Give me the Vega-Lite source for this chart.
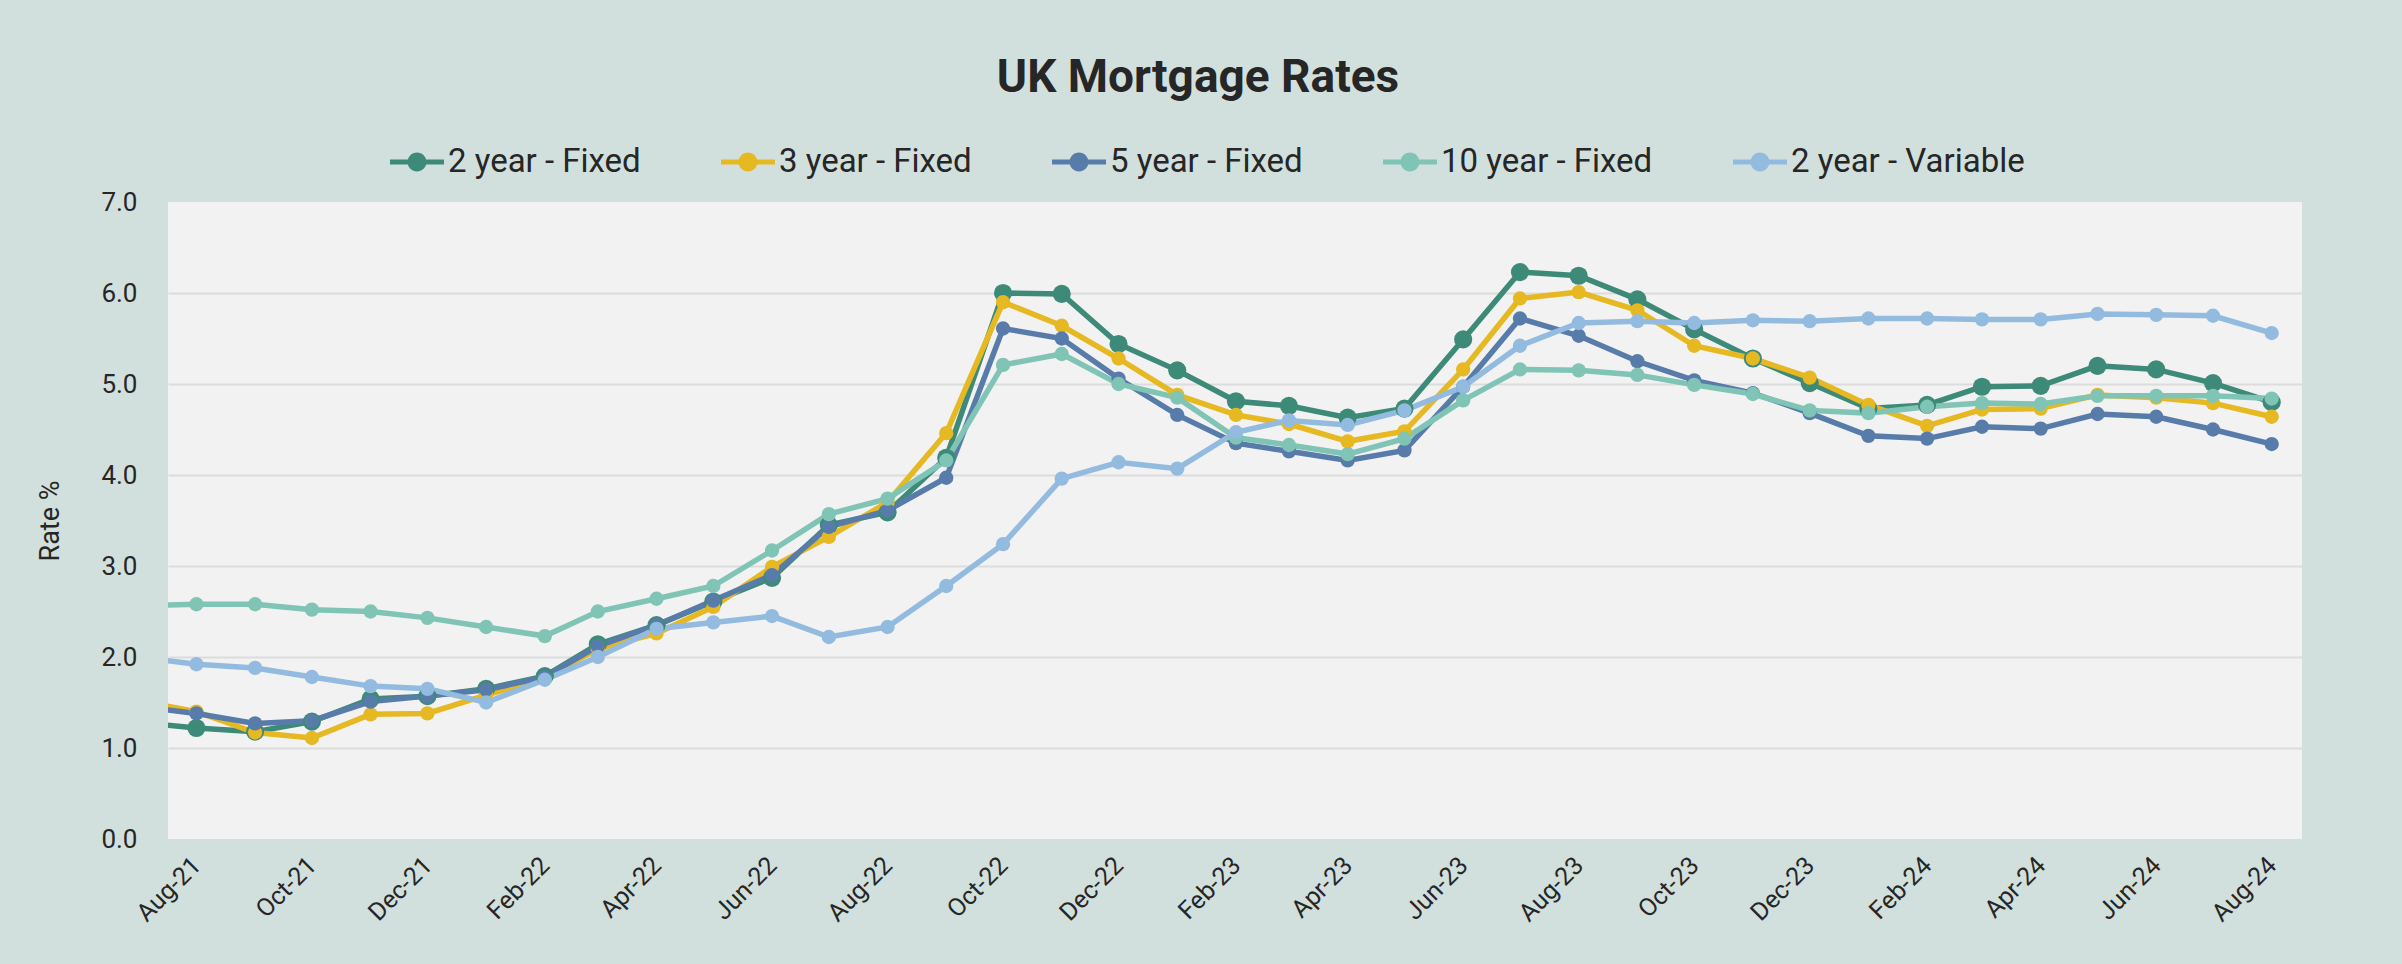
{
  "$schema": "https://vega.github.io/schema/vega-lite/v6.json",
  "autosize": {"type": "none"},
  "width": 2134,
  "height": 637,
  "padding": {"left": 168, "top": 202, "right": 100, "bottom": 125},
  "background": "#d2e0dd",
  "title": {"text": "UK Mortgage Rates", "font": "Roboto", "fontSize": 46, "fontWeight": "bold", "color": "#262626", "anchor": "middle", "frame": "group", "dx": -37, "offset": 33},
  "config": {"font": "Roboto", "view": {"fill": "#f2f2f2", "stroke": null}},
  "data": {"values": [
    {"date":"2021-07-01","series":"2 year - Fixed","rate":1.28},{"date":"2021-08-01","series":"2 year - Fixed","rate":1.22},{"date":"2021-09-01","series":"2 year - Fixed","rate":1.18},{"date":"2021-10-01","series":"2 year - Fixed","rate":1.29},{"date":"2021-11-01","series":"2 year - Fixed","rate":1.54},{"date":"2021-12-01","series":"2 year - Fixed","rate":1.57},
    {"date":"2022-01-01","series":"2 year - Fixed","rate":1.65},{"date":"2022-02-01","series":"2 year - Fixed","rate":1.79},{"date":"2022-03-01","series":"2 year - Fixed","rate":2.14},{"date":"2022-04-01","series":"2 year - Fixed","rate":2.35},{"date":"2022-05-01","series":"2 year - Fixed","rate":2.61},{"date":"2022-06-01","series":"2 year - Fixed","rate":2.87},{"date":"2022-07-01","series":"2 year - Fixed","rate":3.45},{"date":"2022-08-01","series":"2 year - Fixed","rate":3.59},{"date":"2022-09-01","series":"2 year - Fixed","rate":4.19},{"date":"2022-10-01","series":"2 year - Fixed","rate":6.00},{"date":"2022-11-01","series":"2 year - Fixed","rate":5.99},{"date":"2022-12-01","series":"2 year - Fixed","rate":5.44},
    {"date":"2023-01-01","series":"2 year - Fixed","rate":5.15},{"date":"2023-02-01","series":"2 year - Fixed","rate":4.81},{"date":"2023-03-01","series":"2 year - Fixed","rate":4.76},{"date":"2023-04-01","series":"2 year - Fixed","rate":4.63},{"date":"2023-05-01","series":"2 year - Fixed","rate":4.73},{"date":"2023-06-01","series":"2 year - Fixed","rate":5.49},{"date":"2023-07-01","series":"2 year - Fixed","rate":6.23},{"date":"2023-08-01","series":"2 year - Fixed","rate":6.19},{"date":"2023-09-01","series":"2 year - Fixed","rate":5.93},{"date":"2023-10-01","series":"2 year - Fixed","rate":5.60},{"date":"2023-11-01","series":"2 year - Fixed","rate":5.28},{"date":"2023-12-01","series":"2 year - Fixed","rate":5.01},
    {"date":"2024-01-01","series":"2 year - Fixed","rate":4.73},{"date":"2024-02-01","series":"2 year - Fixed","rate":4.77},{"date":"2024-03-01","series":"2 year - Fixed","rate":4.97},{"date":"2024-04-01","series":"2 year - Fixed","rate":4.98},{"date":"2024-05-01","series":"2 year - Fixed","rate":5.20},{"date":"2024-06-01","series":"2 year - Fixed","rate":5.16},{"date":"2024-07-01","series":"2 year - Fixed","rate":5.01},{"date":"2024-08-01","series":"2 year - Fixed","rate":4.80},

    {"date":"2021-07-01","series":"3 year - Fixed","rate":1.52},{"date":"2021-08-01","series":"3 year - Fixed","rate":1.40},{"date":"2021-09-01","series":"3 year - Fixed","rate":1.17},{"date":"2021-10-01","series":"3 year - Fixed","rate":1.11},{"date":"2021-11-01","series":"3 year - Fixed","rate":1.37},{"date":"2021-12-01","series":"3 year - Fixed","rate":1.38},
    {"date":"2022-01-01","series":"3 year - Fixed","rate":1.58},{"date":"2022-02-01","series":"3 year - Fixed","rate":1.77},{"date":"2022-03-01","series":"3 year - Fixed","rate":2.09},{"date":"2022-04-01","series":"3 year - Fixed","rate":2.26},{"date":"2022-05-01","series":"3 year - Fixed","rate":2.55},{"date":"2022-06-01","series":"3 year - Fixed","rate":2.99},{"date":"2022-07-01","series":"3 year - Fixed","rate":3.32},{"date":"2022-08-01","series":"3 year - Fixed","rate":3.70},{"date":"2022-09-01","series":"3 year - Fixed","rate":4.46},{"date":"2022-10-01","series":"3 year - Fixed","rate":5.90},{"date":"2022-11-01","series":"3 year - Fixed","rate":5.64},{"date":"2022-12-01","series":"3 year - Fixed","rate":5.28},
    {"date":"2023-01-01","series":"3 year - Fixed","rate":4.88},{"date":"2023-02-01","series":"3 year - Fixed","rate":4.66},{"date":"2023-03-01","series":"3 year - Fixed","rate":4.56},{"date":"2023-04-01","series":"3 year - Fixed","rate":4.37},{"date":"2023-05-01","series":"3 year - Fixed","rate":4.48},{"date":"2023-06-01","series":"3 year - Fixed","rate":5.16},{"date":"2023-07-01","series":"3 year - Fixed","rate":5.94},{"date":"2023-08-01","series":"3 year - Fixed","rate":6.01},{"date":"2023-09-01","series":"3 year - Fixed","rate":5.81},{"date":"2023-10-01","series":"3 year - Fixed","rate":5.42},{"date":"2023-11-01","series":"3 year - Fixed","rate":5.28},{"date":"2023-12-01","series":"3 year - Fixed","rate":5.07},
    {"date":"2024-01-01","series":"3 year - Fixed","rate":4.77},{"date":"2024-02-01","series":"3 year - Fixed","rate":4.54},{"date":"2024-03-01","series":"3 year - Fixed","rate":4.72},{"date":"2024-04-01","series":"3 year - Fixed","rate":4.73},{"date":"2024-05-01","series":"3 year - Fixed","rate":4.88},{"date":"2024-06-01","series":"3 year - Fixed","rate":4.85},{"date":"2024-07-01","series":"3 year - Fixed","rate":4.79},{"date":"2024-08-01","series":"3 year - Fixed","rate":4.64},

    {"date":"2021-07-01","series":"5 year - Fixed","rate":1.46},{"date":"2021-08-01","series":"5 year - Fixed","rate":1.38},{"date":"2021-09-01","series":"5 year - Fixed","rate":1.27},{"date":"2021-10-01","series":"5 year - Fixed","rate":1.30},{"date":"2021-11-01","series":"5 year - Fixed","rate":1.51},{"date":"2021-12-01","series":"5 year - Fixed","rate":1.57},
    {"date":"2022-01-01","series":"5 year - Fixed","rate":1.64},{"date":"2022-02-01","series":"5 year - Fixed","rate":1.78},{"date":"2022-03-01","series":"5 year - Fixed","rate":2.12},{"date":"2022-04-01","series":"5 year - Fixed","rate":2.35},{"date":"2022-05-01","series":"5 year - Fixed","rate":2.62},{"date":"2022-06-01","series":"5 year - Fixed","rate":2.90},{"date":"2022-07-01","series":"5 year - Fixed","rate":3.43},{"date":"2022-08-01","series":"5 year - Fixed","rate":3.61},{"date":"2022-09-01","series":"5 year - Fixed","rate":3.97},{"date":"2022-10-01","series":"5 year - Fixed","rate":5.61},{"date":"2022-11-01","series":"5 year - Fixed","rate":5.50},{"date":"2022-12-01","series":"5 year - Fixed","rate":5.06},
    {"date":"2023-01-01","series":"5 year - Fixed","rate":4.66},{"date":"2023-02-01","series":"5 year - Fixed","rate":4.35},{"date":"2023-03-01","series":"5 year - Fixed","rate":4.26},{"date":"2023-04-01","series":"5 year - Fixed","rate":4.16},{"date":"2023-05-01","series":"5 year - Fixed","rate":4.27},{"date":"2023-06-01","series":"5 year - Fixed","rate":4.97},{"date":"2023-07-01","series":"5 year - Fixed","rate":5.72},{"date":"2023-08-01","series":"5 year - Fixed","rate":5.53},{"date":"2023-09-01","series":"5 year - Fixed","rate":5.25},{"date":"2023-10-01","series":"5 year - Fixed","rate":5.04},{"date":"2023-11-01","series":"5 year - Fixed","rate":4.90},{"date":"2023-12-01","series":"5 year - Fixed","rate":4.68},
    {"date":"2024-01-01","series":"5 year - Fixed","rate":4.43},{"date":"2024-02-01","series":"5 year - Fixed","rate":4.40},{"date":"2024-03-01","series":"5 year - Fixed","rate":4.53},{"date":"2024-04-01","series":"5 year - Fixed","rate":4.51},{"date":"2024-05-01","series":"5 year - Fixed","rate":4.67},{"date":"2024-06-01","series":"5 year - Fixed","rate":4.64},{"date":"2024-07-01","series":"5 year - Fixed","rate":4.50},{"date":"2024-08-01","series":"5 year - Fixed","rate":4.34},

    {"date":"2021-07-01","series":"10 year - Fixed","rate":2.56},{"date":"2021-08-01","series":"10 year - Fixed","rate":2.58},{"date":"2021-09-01","series":"10 year - Fixed","rate":2.58},{"date":"2021-10-01","series":"10 year - Fixed","rate":2.52},{"date":"2021-11-01","series":"10 year - Fixed","rate":2.50},{"date":"2021-12-01","series":"10 year - Fixed","rate":2.43},
    {"date":"2022-01-01","series":"10 year - Fixed","rate":2.33},{"date":"2022-02-01","series":"10 year - Fixed","rate":2.23},{"date":"2022-03-01","series":"10 year - Fixed","rate":2.50},{"date":"2022-04-01","series":"10 year - Fixed","rate":2.64},{"date":"2022-05-01","series":"10 year - Fixed","rate":2.78},{"date":"2022-06-01","series":"10 year - Fixed","rate":3.17},{"date":"2022-07-01","series":"10 year - Fixed","rate":3.57},{"date":"2022-08-01","series":"10 year - Fixed","rate":3.74},{"date":"2022-09-01","series":"10 year - Fixed","rate":4.16},{"date":"2022-10-01","series":"10 year - Fixed","rate":5.21},{"date":"2022-11-01","series":"10 year - Fixed","rate":5.33},{"date":"2022-12-01","series":"10 year - Fixed","rate":5.00},
    {"date":"2023-01-01","series":"10 year - Fixed","rate":4.85},{"date":"2023-02-01","series":"10 year - Fixed","rate":4.41},{"date":"2023-03-01","series":"10 year - Fixed","rate":4.33},{"date":"2023-04-01","series":"10 year - Fixed","rate":4.23},{"date":"2023-05-01","series":"10 year - Fixed","rate":4.40},{"date":"2023-06-01","series":"10 year - Fixed","rate":4.82},{"date":"2023-07-01","series":"10 year - Fixed","rate":5.16},{"date":"2023-08-01","series":"10 year - Fixed","rate":5.15},{"date":"2023-09-01","series":"10 year - Fixed","rate":5.10},{"date":"2023-10-01","series":"10 year - Fixed","rate":4.99},{"date":"2023-11-01","series":"10 year - Fixed","rate":4.89},{"date":"2023-12-01","series":"10 year - Fixed","rate":4.71},
    {"date":"2024-01-01","series":"10 year - Fixed","rate":4.68},{"date":"2024-02-01","series":"10 year - Fixed","rate":4.75},{"date":"2024-03-01","series":"10 year - Fixed","rate":4.79},{"date":"2024-04-01","series":"10 year - Fixed","rate":4.78},{"date":"2024-05-01","series":"10 year - Fixed","rate":4.87},{"date":"2024-06-01","series":"10 year - Fixed","rate":4.87},{"date":"2024-07-01","series":"10 year - Fixed","rate":4.87},{"date":"2024-08-01","series":"10 year - Fixed","rate":4.84},

    {"date":"2021-07-01","series":"2 year - Variable","rate":2.00},{"date":"2021-08-01","series":"2 year - Variable","rate":1.92},{"date":"2021-09-01","series":"2 year - Variable","rate":1.88},{"date":"2021-10-01","series":"2 year - Variable","rate":1.78},{"date":"2021-11-01","series":"2 year - Variable","rate":1.68},{"date":"2021-12-01","series":"2 year - Variable","rate":1.65},
    {"date":"2022-01-01","series":"2 year - Variable","rate":1.50},{"date":"2022-02-01","series":"2 year - Variable","rate":1.75},{"date":"2022-03-01","series":"2 year - Variable","rate":2.00},{"date":"2022-04-01","series":"2 year - Variable","rate":2.31},{"date":"2022-05-01","series":"2 year - Variable","rate":2.38},{"date":"2022-06-01","series":"2 year - Variable","rate":2.45},{"date":"2022-07-01","series":"2 year - Variable","rate":2.22},{"date":"2022-08-01","series":"2 year - Variable","rate":2.33},{"date":"2022-09-01","series":"2 year - Variable","rate":2.78},{"date":"2022-10-01","series":"2 year - Variable","rate":3.24},{"date":"2022-11-01","series":"2 year - Variable","rate":3.96},{"date":"2022-12-01","series":"2 year - Variable","rate":4.14},
    {"date":"2023-01-01","series":"2 year - Variable","rate":4.07},{"date":"2023-02-01","series":"2 year - Variable","rate":4.47},{"date":"2023-03-01","series":"2 year - Variable","rate":4.60},{"date":"2023-04-01","series":"2 year - Variable","rate":4.55},{"date":"2023-05-01","series":"2 year - Variable","rate":4.71},{"date":"2023-06-01","series":"2 year - Variable","rate":4.97},{"date":"2023-07-01","series":"2 year - Variable","rate":5.42},{"date":"2023-08-01","series":"2 year - Variable","rate":5.67},{"date":"2023-09-01","series":"2 year - Variable","rate":5.69},{"date":"2023-10-01","series":"2 year - Variable","rate":5.67},{"date":"2023-11-01","series":"2 year - Variable","rate":5.70},{"date":"2023-12-01","series":"2 year - Variable","rate":5.69},
    {"date":"2024-01-01","series":"2 year - Variable","rate":5.72},{"date":"2024-02-01","series":"2 year - Variable","rate":5.72},{"date":"2024-03-01","series":"2 year - Variable","rate":5.71},{"date":"2024-04-01","series":"2 year - Variable","rate":5.71},{"date":"2024-05-01","series":"2 year - Variable","rate":5.77},{"date":"2024-06-01","series":"2 year - Variable","rate":5.76},{"date":"2024-07-01","series":"2 year - Variable","rate":5.75},{"date":"2024-08-01","series":"2 year - Variable","rate":5.56}
  ]},
  "encoding": {
    "x": {
      "field": "date", "type": "temporal",
      "scale": {"type": "utc", "domain": [{"year": 2021, "month": 7, "date": 17, "utc": true}, {"year": 2024, "month": 8, "date": 17, "utc": true}]},
      "axis": {
        "title": null,
        "labelExpr": "utcFormat(datum.value, '%b-%y')",
        "values": [
          {"year": 2021, "month": 8, "date": 1, "utc": true}, {"year": 2021, "month": 10, "date": 1, "utc": true}, {"year": 2021, "month": 12, "date": 1, "utc": true},
          {"year": 2022, "month": 2, "date": 1, "utc": true}, {"year": 2022, "month": 4, "date": 1, "utc": true}, {"year": 2022, "month": 6, "date": 1, "utc": true}, {"year": 2022, "month": 8, "date": 1, "utc": true}, {"year": 2022, "month": 10, "date": 1, "utc": true}, {"year": 2022, "month": 12, "date": 1, "utc": true},
          {"year": 2023, "month": 2, "date": 1, "utc": true}, {"year": 2023, "month": 4, "date": 1, "utc": true}, {"year": 2023, "month": 6, "date": 1, "utc": true}, {"year": 2023, "month": 8, "date": 1, "utc": true}, {"year": 2023, "month": 10, "date": 1, "utc": true}, {"year": 2023, "month": 12, "date": 1, "utc": true},
          {"year": 2024, "month": 2, "date": 1, "utc": true}, {"year": 2024, "month": 4, "date": 1, "utc": true}, {"year": 2024, "month": 6, "date": 1, "utc": true}, {"year": 2024, "month": 8, "date": 1, "utc": true}
        ],
        "labelAngle": -45, "labelAlign": "right", "labelBaseline": "middle",
        "labelFontSize": 25, "labelColor": "#262626", "labelPadding": 22,
        "ticks": false, "domain": false, "grid": false, "labelOverlap": false, "labelFlush": false
      }
    },
    "y": {
      "field": "rate", "type": "quantitative",
      "scale": {"domain": [0, 7], "nice": false, "zero": true},
      "axis": {
        "title": "Rate %", "titleFontSize": 27, "titleFontWeight": "normal", "titleColor": "#262626", "titlePadding": 36,
        "values": [0, 1, 2, 3, 4, 5, 6, 7], "format": ".1f",
        "labelFontSize": 26, "labelColor": "#262626", "labelPadding": 31,
        "ticks": false, "domain": false,
        "gridColor": {"condition": {"test": "datum.value == 0 || datum.value == 7", "value": "transparent"}, "value": "#dcdcdc"},
        "gridWidth": 2
      }
    }
  },
  "resolve": {"legend": {"color": "independent"}},
  "layer": [
    {
      "mark": {"type": "line", "strokeWidth": 5.5, "clip": true},
      "encoding": {
        "color": {
          "field": "series", "type": "nominal", "legend": null,
          "scale": {"domain": ["2 year - Fixed", "3 year - Fixed", "5 year - Fixed", "10 year - Fixed", "2 year - Variable"], "range": ["#3e8a78", "#e6b822", "#587ca9", "#7fc4b5", "#93bbe0"]}
        }
      }
    },
    {
      "mark": {"type": "point", "filled": true, "opacity": 1, "clip": true},
      "encoding": {
        "color": {
          "field": "series", "type": "nominal",
          "scale": {"domain": ["2 year - Fixed", "3 year - Fixed", "5 year - Fixed", "10 year - Fixed", "2 year - Variable"], "range": ["#3e8a78", "#e6b822", "#587ca9", "#7fc4b5", "#93bbe0"]},
          "legend": {
            "orient": "none", "legendX": 222, "legendY": -67, "direction": "horizontal", "title": null,
            "symbolType": "M-1,-0.093 L1,-0.093 L1,0.093 L-1,0.093 Z M0.35,0 A0.35,0.35 0 1,1 -0.35,0 A0.35,0.35 0 1,1 0.35,0 Z",
            "symbolSize": 2916, "symbolStrokeWidth": 0, "symbolOpacity": 1,
            "labelFontSize": 33, "labelColor": "#262626", "labelOffset": 4, "columnPadding": 80, "labelLimit": 500
          }
        },
        "size": {"condition": {"test": "datum.series == '2 year - Fixed'", "value": 330}, "value": 205}
      }
    }
  ]
}
